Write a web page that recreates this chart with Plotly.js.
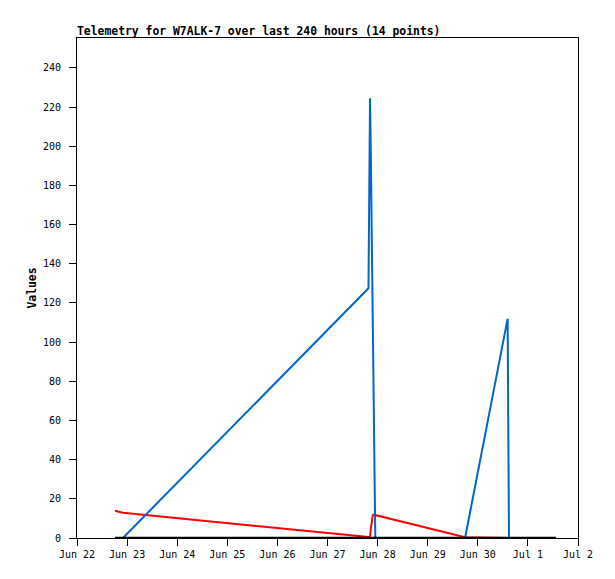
<!DOCTYPE html>
<html>
<head>
<meta charset="utf-8">
<script src="https://cdn.plot.ly/plotly-3.0.1.min.js"></script>
<style>html,body{margin:0;padding:0;background:#fff;}#chart{width:615px;height:579px;}</style>
</head>
<body>
<div id="chart"></div>
<script>
var times = [
  '2023-06-22 18:12', '2023-06-22 22:00', '2023-06-27 19:38', '2023-06-27 20:22',
  '2023-06-27 20:41', '2023-06-27 21:10', '2023-06-27 21:39', '2023-06-27 22:08',
  '2023-06-27 22:54', '2023-06-29 17:54', '2023-06-30 14:18', '2023-06-30 14:36',
  '2023-06-30 14:57', '2023-07-01 13:30'
];
var blueValues  = [0, 0, 127.5, 224.5, 202, 157, 112, 67, 0, 0, 112, 56, 0, 0];
var redValues   = [13.9, 12.9, 0.5, 0.3, 4, 8.5, 11.5, 11.9, 11.7, 0.4, 0, 0, 0, 0];
var blackValues = [0, 0, 0, 0, 0, 0, 0, 0, 0, 0, 0, 0, 0, 0];

var xRange = ['2023-06-22 00:00', '2023-07-02 00:00'];
var yRange = [0, 255.3];
var titleText = 'Telemetry for W7ALK-7 over last 240 hours (14 points)';
var yTitle = 'Values';

var mono = 'DejaVu Sans Mono, Liberation Mono, monospace';

var traces = [
  {x: times, y: redValues, mode: 'lines', line: {color: '#ff0000', width: 2}, hoverinfo: 'skip'},
  {x: times, y: blueValues, mode: 'lines', line: {color: '#0066cc', width: 2}, hoverinfo: 'skip'},
  {x: times, y: blackValues, mode: 'lines', line: {color: '#000000', width: 2.5}, hoverinfo: 'skip'}
];

var layout = {
  width: 615, height: 579,
  margin: {l: 77, r: 37, t: 38, b: 41},
  paper_bgcolor: '#ffffff', plot_bgcolor: '#ffffff',
  showlegend: false,
  title: {
    text: '<b>' + titleText + '</b>',
    font: {family: mono, size: 11.4, color: '#000'},
    xref: 'paper', x: 0, xanchor: 'left',
    yref: 'container', y: 1 - 31 / 579, yanchor: 'middle'
  },
  xaxis: {
    type: 'date', range: xRange,
    dtick: 86400000, tick0: '2023-06-22',
    tickformat: '%b %-d',
    ticks: 'outside', ticklen: 7, tickcolor: '#000', tickwidth: 1,
    showline: true, linecolor: '#000', linewidth: 1, mirror: true,
    showgrid: false, zeroline: false,
    tickfont: {family: mono, size: 10, color: '#000'}
  },
  yaxis: {
    range: yRange, dtick: 20, tick0: 0,
    ticks: 'outside', ticklen: 7, tickcolor: '#000', tickwidth: 1,
    ticklabelstandoff: 6,
    showline: true, linecolor: '#000', linewidth: 1, mirror: true,
    showgrid: false, zeroline: false,
    tickfont: {family: mono, size: 10, color: '#000'},
    title: {text: '<b>' + yTitle + '</b>', font: {family: mono, size: 11.4, color: '#000'}, standoff: 3}
  }
};

Plotly.newPlot('chart', traces, layout, {staticPlot: true, displayModeBar: false});
</script>
</body>
</html>
